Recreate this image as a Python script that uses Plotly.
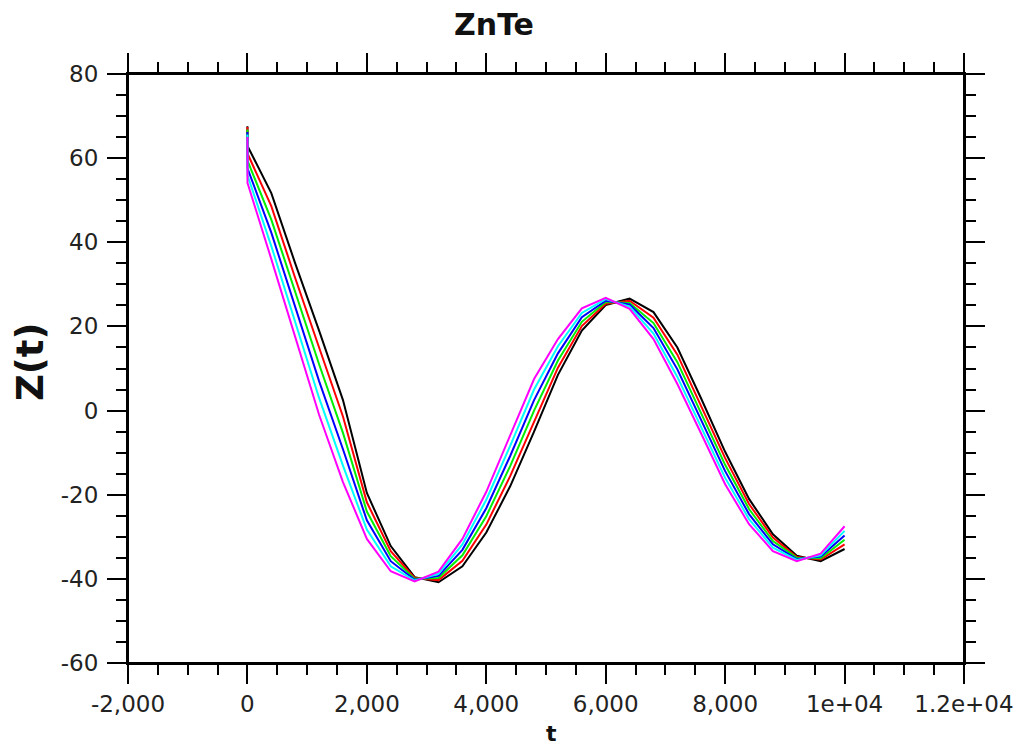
import plotly.graph_objects as go

t = [0, 1, 400, 800, 1200, 1600, 2000, 2400, 2800, 3200, 3600, 4000, 4400, 4800,
     5200, 5600, 6000, 6400, 6800, 7200, 7600, 8000, 8400, 8800, 9200, 9600, 10000]

z_black = [67.6, 62.9, 51.7, 35.0, 19.0, 2.5, -19.6, -32.2, -39.6, -40.8, -37.0, -29.0, -18.0, -5.0,
           8.5, 19.0, 25.1, 26.6, 23.4, 15.0, 2.8, -9.8, -21.0, -29.4, -34.5, -35.8, -32.9]
z_red = [67.4, 61.1, 48.6, 31.5, 15.0, -1.4, -21.8, -33.4, -39.8, -40.3, -35.7, -27.1, -15.6, -2.5,
         10.2, 20.1, 25.4, 26.1, 22.1, 13.3, 1.1, -11.3, -22.2, -30.2, -34.8, -35.4, -31.8]
z_green = [66.8, 59.4, 45.4, 28.0, 11.0, -5.3, -24.0, -34.6, -40.0, -39.8, -34.4, -25.1, -13.2, 0.0,
           11.9, 21.1, 25.8, 25.6, 20.8, 11.5, -0.5, -12.9, -23.4, -31.0, -35.0, -35.1, -30.7]
z_blue = [66.2, 57.6, 42.3, 24.5, 7.0, -9.2, -26.1, -35.8, -40.2, -39.3, -33.1, -23.2, -10.8, 2.5,
          13.6, 22.2, 26.1, 25.2, 19.6, 9.8, -2.2, -14.4, -24.6, -31.8, -35.3, -34.7, -29.7]
z_cyan = [65.6, 55.9, 39.1, 21.0, 3.0, -13.1, -28.3, -37.0, -40.4, -38.8, -31.8, -21.2, -8.4, 5.0,
          15.3, 23.2, 26.5, 24.7, 18.3, 8.0, -3.8, -16.0, -25.8, -32.6, -35.5, -34.4, -28.6]
z_magenta = [65.0, 54.1, 36.0, 17.5, -1.0, -17.0, -30.5, -38.2, -40.6, -38.3, -30.5, -19.3, -6.0, 7.5,
             17.0, 24.3, 26.8, 24.2, 17.0, 6.3, -5.5, -17.5, -27.0, -33.4, -35.8, -34.0, -27.5]

series = [z_black, z_red, z_green, z_blue, z_cyan, z_magenta]
colors = ["#000000", "#ff0000", "#00ee00", "#0000ff", "#00ffff", "#ff00ff"]

x_tickvals = [-2000, 0, 2000, 4000, 6000, 8000, 10000, 12000]
x_ticktext = ["-2,000", "0", "2,000", "4,000", "6,000", "8,000", "1e+04", "1.2e+04"]
y_tickvals = [-60, -40, -20, 0, 20, 40, 60, 80]
y_ticktext = ["-60", "-40", "-20", "0", "20", "40", "60", "80"]

fig = go.Figure()
for z, c in zip(series, colors):
    fig.add_trace(go.Scatter(x=t, y=z, mode="lines", line=dict(color=c, width=2),
                             showlegend=False, hoverinfo="x+y"))

W, H = 1023, 746
off = 8  # page body offset
ml, mr, mt, mb = 120, 67, 66, 91
pw, ph = W - ml - mr, H - mt - mb
px0, py0 = ml + off, mt + off  # plot-area top-left in page pixels
ext = 19
ex, ey = ext / pw, ext / ph

def xp(px):
    return (px - px0) / pw

def yp(py):
    return (py0 + ph - py) / ph

tickfont = dict(family="DejaVu Sans", size=23, color="#222222")
axis_common = dict(showgrid=False, zeroline=False, showline=True, linecolor="black",
                   linewidth=2, mirror="ticks", ticks="outside", ticklen=19, tickwidth=2,
                   tickcolor="black", tickfont=tickfont)

fig.update_layout(
    width=W, height=H,
    margin=dict(l=ml, r=mr, t=mt, b=mb),
    paper_bgcolor="white", plot_bgcolor="white",
    title=dict(text="<b>ZnTe</b>", x=xp(494), xref="paper", xanchor="center",
               y=1 - (24 - off) / H, yref="container", yanchor="middle",
               font=dict(family="DejaVu Sans", size=30, color="#111111")),
    xaxis=dict(range=[-2000, 12000], tickmode="array", tickvals=x_tickvals,
               ticktext=x_ticktext,
               minor=dict(dtick=500, tick0=0, ticks="outside", ticklen=10, tickwidth=2,
                          tickcolor="black"),
               **axis_common),
    yaxis=dict(range=[-60, 80], tickmode="array", tickvals=y_tickvals,
               ticktext=y_ticktext, ticklabelstandoff=4,
               minor=dict(dtick=5, tick0=0, ticks="outside", ticklen=10, tickwidth=2,
                          tickcolor="black"),
               **axis_common),
)

fig.add_annotation(text="<b>Z(t)</b>", xref="paper", yref="paper", x=xp(31), y=yp(362),
                   xanchor="center", yanchor="middle", textangle=-90, showarrow=False,
                   borderpad=0,
                   font=dict(family="DejaVu Sans", size=37, color="#111111"))
fig.add_annotation(text="<b>t</b>", xref="paper", yref="paper", x=xp(551), y=yp(733),
                   xanchor="center", yanchor="middle", showarrow=False,
                   font=dict(family="DejaVu Sans", size=22, color="#111111"))

line_style = dict(color="black", width=2)
for (x0, y0, x1, y1) in [(-ex, 0, 1 + ex, 0), (-ex, 1, 1 + ex, 1),
                         (0, -ey, 0, 1 + ey), (1, -ey, 1, 1 + ey)]:
    fig.add_shape(type="line", xref="paper", yref="paper", x0=x0, y0=y0, x1=x1, y1=y1,
                  line=line_style, layer="above")

fig.write_html("out.html")
